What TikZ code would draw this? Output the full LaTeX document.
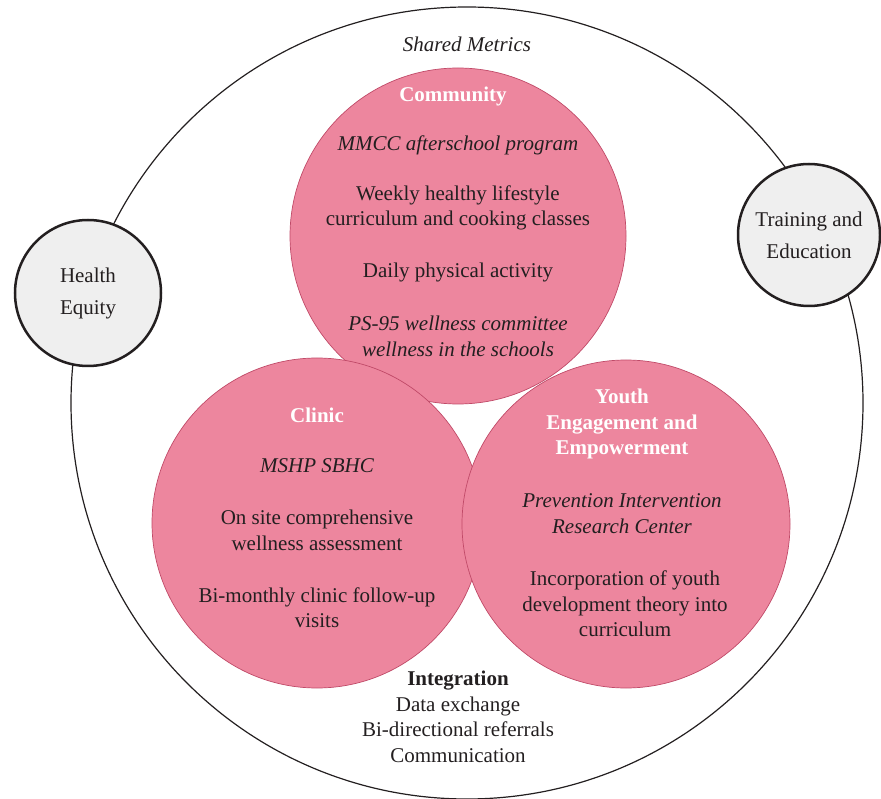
\documentclass[tikz,border=0pt]{standalone}
\usepackage{fontspec}
\setmainfont{Liberation Serif}
\usetikzlibrary{positioning}
\definecolor{vennpink}{RGB}{237,134,158}
\definecolor{vennedge}{RGB}{192,74,104}
\definecolor{sidegray}{RGB}{239,239,239}
\definecolor{ink}{RGB}{35,31,32}
\tikzstyle{outer} = [circle, draw=ink, line width=1.2pt, minimum size=792pt, inner sep=0pt]
\tikzstyle{venn} = [circle, draw=vennedge, line width=0.7pt, fill=vennpink, inner sep=0pt]
\tikzstyle{side} = [circle, draw=ink, line width=2.5pt, fill=sidegray, inner sep=0pt, text=ink, align=center, font=\fontsize{21}{32}\selectfont]
\tikzstyle{head} = [text=white, align=center, font=\bfseries\fontsize{21}{25.5}\selectfont]
\tikzstyle{item} = [text=ink, align=center, font=\fontsize{21}{25.5}\selectfont]
\tikzstyle{itemit} = [text=ink, align=center, font=\itshape\fontsize{21}{25.5}\selectfont]

\begin{document}
\begin{tikzpicture}[x=1pt, y=-1pt]
\useasboundingbox (0,0) rectangle (881,799);

\node (outer) [outer] at (467,403) {};
\node (shared) [itemit] at (467,44) {Shared Metrics};

\node (equity) [side, minimum size=146pt] at (88,293) {Health\\Equity};
\node (training) [side, minimum size=142pt] at (809,235) {Training and\\Education};

% the three circles
\node (community) [venn, minimum size=336pt] at (458,236) {};
\node (clinic) [venn, minimum size=330pt] at (317,523) {};
\node (youth) [venn, minimum size=328pt] at (626,524) {};

% community
\node (commhead) [head] at (453,96) {Community};
\node (mmcc) [itemit] at (458,145) {MMCC afterschool program};
\node (weekly) [item] at (458,208) {Weekly healthy lifestyle\\curriculum and cooking classes};
\node (daily) [item] at (458,272) {Daily physical activity};
\node (ps95) [itemit] at (458,336.5) {PS-95 wellness committee\\wellness in the schools};

% clinic
\node (clinhead) [head] at (317,415) {Clinic};
\node (mshp) [itemit] at (317,466) {MSHP SBHC};
\node (onsite) [item] at (317,530.5) {On site comprehensive\\wellness assessment};
\node (bimonthly) [item] at (317,607.5) {Bi-monthly clinic follow-up\\visits};

% youth
\node (youthhead) [head] at (622,424) {Youth\\Engagement and\\Empowerment};
\node (pirc) [itemit] at (622,513.5) {Prevention Intervention\\Research Center};
\node (incorp) [item] at (625,604) {Incorporation of youth\\development theory into\\curriculum};

% integration
\node (integration) [item] at (458,717) {\textbf{Integration}\\Data exchange\\Bi-directional referrals\\Communication};
\end{tikzpicture}
\end{document}
